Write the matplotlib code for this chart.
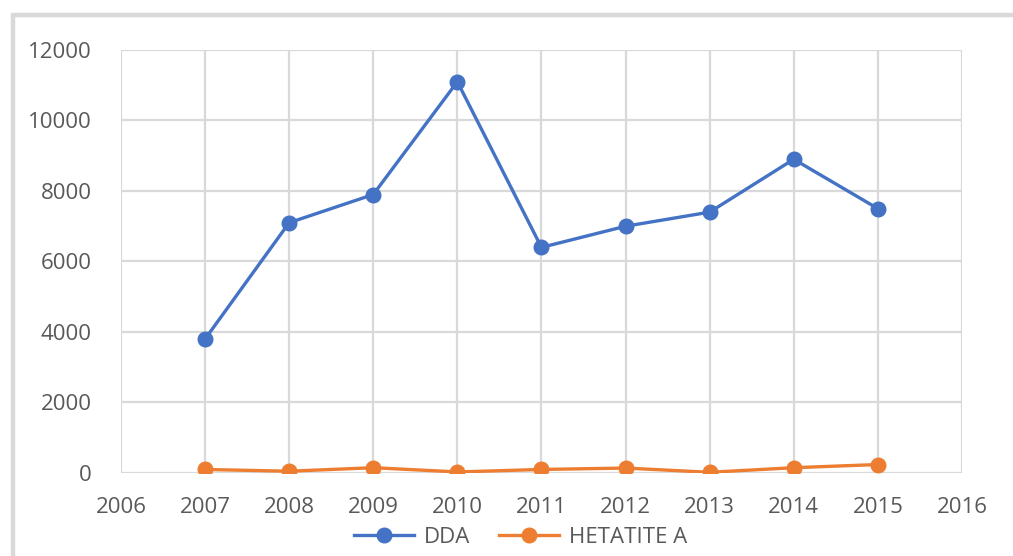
import matplotlib.pyplot as plt
from matplotlib.patches import Rectangle

plt.rcParams["font.family"] = ["Open Sans", "DejaVu Sans"]

# yearly case counts
years = [2007, 2008, 2009, 2010, 2011, 2012, 2013, 2014, 2015]
dda = [3800, 7100, 7900, 11100, 6400, 7000, 7400, 8900, 7500]
hepatitis_a = [100, 50, 150, 30, 100, 140, 20, 150, 240]
series_names = ["DDA", "HETATITE A"]

text_color = "#595959"
grid_color = "#d9d9d9"

fig = plt.figure(figsize=(10.13, 5.56), dpi=100)
ax = fig.add_axes([0.1194, 0.1493, 0.8302, 0.7608])

ax.plot(years, dda, color="#4472C4", lw=2.4, marker="o", markersize=10.5, label=series_names[0], zorder=3)
ax.plot(years, hepatitis_a, color="#ED7D31", lw=2.4, marker="o", markersize=10.5, label=series_names[1], zorder=3)

ax.set_xlim(2006, 2016)
ax.set_ylim(0, 12000)
ax.set_xticks(range(2006, 2017))
ax.set_yticks(range(0, 12001, 2000))
ax.grid(True, color=grid_color, lw=1.6)
ax.set_axisbelow(True)
for s in ax.spines.values():
    s.set_visible(False)
ax.tick_params(length=0, labelsize=16, labelcolor=text_color)
ax.tick_params(axis="x", pad=17)
ax.tick_params(axis="y", pad=21)

fig.legend(loc="center", bbox_to_anchor=(0.514, 0.033), ncol=2, frameon=False,
           fontsize=16, labelcolor=text_color, handlelength=2.7,
           handletextpad=0.45, columnspacing=1.3)

# chart area border
fig.patches.append(Rectangle((0.0128, -0.1), 1.2, 1.073, transform=fig.transFigure,
                             fill=False, edgecolor=grid_color, lw=3.2))

fig.savefig("out.png", dpi=100)
